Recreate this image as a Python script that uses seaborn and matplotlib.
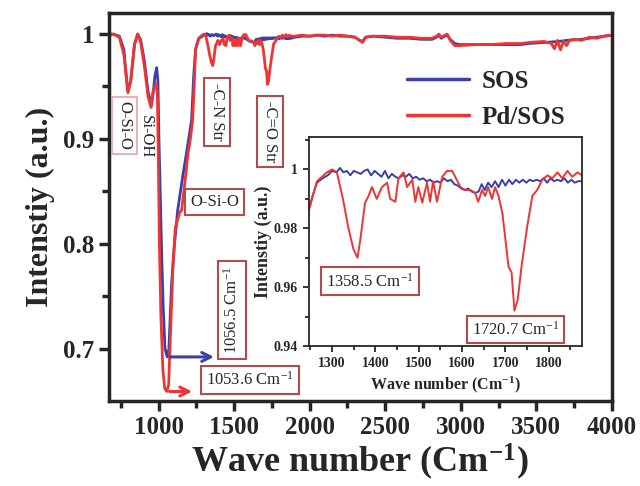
import numpy as np
import pandas as pd
import matplotlib
matplotlib.use("Agg")
import matplotlib.pyplot as plt
import seaborn as sns

# ===============================
# DATA
# ===============================
blue = "#3b3fa8"
red = "#ef3434"

# low range 670-1240 (main plot only)
sos_low_x = [670, 700, 740, 770, 795, 815, 840, 861, 880, 905, 930, 952, 965, 975,
             987, 995, 1002, 1010, 1020, 1030, 1042, 1056.5, 1068, 1085, 1105, 1126,
             1160, 1185, 1218, 1232]
sos_low_y = [1.000, 1.000, 0.998, 0.985, 0.946, 0.955, 0.990, 1.000, 0.995, 0.975,
             0.945, 0.932, 0.945, 0.960, 0.968, 0.955, 0.900, 0.850, 0.790, 0.740,
             0.700, 0.692, 0.700, 0.760, 0.800, 0.832, 0.865, 0.887, 0.918, 0.960]

pd_low_x = [670, 700, 740, 770, 797, 815, 840, 861, 880, 905, 930, 950, 962, 975,
            985, 992, 998, 1005, 1015, 1028, 1040, 1053.6, 1066, 1080, 1095, 1110,
            1140, 1152, 1175, 1192, 1210, 1225, 1235]
pd_low_y = [0.998, 1.000, 0.997, 0.980, 0.944, 0.955, 0.990, 1.000, 0.993, 0.970,
            0.940, 0.930, 0.945, 0.950, 0.953, 0.940, 0.880, 0.800, 0.730, 0.680,
            0.662, 0.659, 0.665, 0.720, 0.780, 0.815, 0.830, 0.832, 0.860, 0.883,
            0.900, 0.918, 0.950]

# inset range 1244-1877
sos_ins_x = [1244, 1255, 1265, 1278, 1290, 1300, 1310, 1318, 1326, 1334, 1342, 1350,
             1358, 1366, 1374, 1382, 1390, 1398, 1406, 1414, 1422, 1430, 1438, 1446,
             1454, 1462, 1470, 1478, 1486, 1494, 1502, 1510, 1518, 1526, 1534, 1542,
             1550, 1558, 1566, 1574, 1582, 1590, 1598, 1606, 1614, 1622, 1630, 1638,
             1645, 1652, 1660, 1668, 1676, 1684, 1692, 1700, 1708, 1716, 1724, 1732,
             1740, 1748, 1756, 1764, 1772, 1780, 1788, 1796, 1804, 1812, 1820, 1828,
             1836, 1844, 1852, 1860, 1868, 1877]
sos_ins_y = [0.985, 0.991, 0.9955, 0.997, 0.998, 0.9995, 0.999, 1.0005, 0.999, 0.9995,
             0.998, 0.9995, 0.999, 0.9985, 0.9995, 1.000, 0.998, 0.9995, 0.9985, 0.9975,
             0.9995, 0.997, 0.9985, 0.9975, 0.997, 0.998, 0.9975, 0.9985, 0.997, 0.9975,
             0.9965, 0.997, 0.996, 0.9965, 0.9955, 0.996, 0.9955, 0.997, 0.996, 0.9965,
             0.995, 0.9945, 0.9935, 0.993, 0.9935, 0.9925, 0.992, 0.9925, 0.995, 0.993,
             0.9955, 0.994, 0.996, 0.994, 0.9965, 0.9945, 0.9965, 0.995, 0.9965, 0.9955,
             0.9965, 0.9955, 0.9965, 0.996, 0.9965, 0.996, 0.997, 0.9955, 0.997, 0.996,
             0.9965, 0.996, 0.997, 0.9955, 0.9965, 0.9955, 0.996, 0.996]

pd_ins_x = [1244, 1265, 1288, 1300, 1311, 1325, 1337, 1349, 1358.5, 1365, 1376, 1384,
            1392, 1403, 1415, 1427, 1434, 1446, 1453, 1465, 1473, 1485, 1492, 1499,
            1508, 1519, 1526, 1533, 1542, 1554, 1565, 1577, 1584, 1596, 1607, 1619,
            1630, 1637, 1646, 1653, 1660, 1669, 1676, 1684, 1693, 1700, 1707, 1714,
            1720.7, 1728, 1737, 1750, 1762, 1773, 1785, 1797, 1808, 1820, 1831, 1843,
            1854, 1866, 1877]
pd_ins_y = [0.985, 0.996, 0.999, 1.000, 0.999, 0.990, 0.9805, 0.973, 0.970, 0.976,
            0.9887, 0.991, 0.994, 0.990, 0.994, 0.9955, 0.990, 0.989, 0.997, 0.999,
            0.994, 0.9965, 0.989, 0.994, 0.9887, 0.9955, 0.989, 0.996, 0.989, 0.9975,
            0.9995, 0.9995, 0.9975, 0.994, 0.993, 0.993, 0.992, 0.989, 0.993, 0.991,
            0.994, 0.990, 0.994, 0.991, 0.985, 0.976, 0.967, 0.965, 0.952, 0.9555,
            0.967, 0.9805, 0.991, 0.993, 0.9965, 0.998, 0.997, 0.999, 0.997, 0.9995,
            0.9975, 0.999, 0.998]

# high range 1900-4000 (main plot only)
sos_high_x = [1900, 1950, 2000, 2050, 2100, 2150, 2200, 2250, 2300, 2330, 2350, 2370,
              2420, 2500, 2580, 2660, 2740, 2810, 2840, 2855, 2870, 2895, 2910, 2930,
              2960, 2993, 3100, 3200, 3300, 3400, 3450, 3550, 3650, 3700, 3800, 3850,
              3900, 4000]
sos_high_y = [0.997, 0.998, 0.998, 0.999, 0.998, 0.999, 0.998, 0.998, 0.997, 0.994,
              0.993, 0.997, 0.998, 0.997, 0.996, 0.996, 0.995, 0.995, 0.997, 0.999,
              0.996, 0.998, 0.999, 0.995, 0.991, 0.990, 0.990, 0.990, 0.990, 0.990,
              0.991, 0.992, 0.993, 0.994, 0.995, 0.996, 0.997, 0.999]

pd_high_x = [1900, 1950, 2000, 2050, 2100, 2150, 2200, 2250, 2300, 2330, 2350, 2370,
             2420, 2500, 2580, 2660, 2740, 2810, 2840, 2855, 2870, 2895, 2910, 2930,
             2960, 2993, 3100, 3200, 3300, 3400, 3450, 3550, 3600, 3620, 3640, 3660,
             3680, 3700, 3720, 3750, 3800, 3850, 3900, 3950, 4000]
pd_high_y = [0.998, 0.999, 0.998, 0.999, 0.999, 0.998, 0.999, 0.998, 0.997, 0.994,
             0.992, 0.997, 0.998, 0.998, 0.997, 0.997, 0.996, 0.996, 0.998, 1.000,
             0.997, 0.999, 1.000, 0.994, 0.989, 0.989, 0.990, 0.990, 0.991, 0.991,
             0.992, 0.993, 0.991, 0.986, 0.994, 0.985, 0.993, 0.989, 0.994, 0.995,
             0.994, 0.997, 0.996, 0.998, 0.999]

main_df = pd.concat([
    pd.DataFrame({"wn": sos_low_x + sos_ins_x + sos_high_x,
                  "I": sos_low_y + sos_ins_y + sos_high_y, "s": "SOS"}),
    pd.DataFrame({"wn": pd_low_x + pd_ins_x + pd_high_x,
                  "I": pd_low_y + pd_ins_y + pd_high_y, "s": "Pd/SOS"}),
])
ins_df = pd.concat([
    pd.DataFrame({"wn": sos_ins_x, "I": sos_ins_y, "s": "SOS"}),
    pd.DataFrame({"wn": pd_ins_x, "I": pd_ins_y, "s": "Pd/SOS"}),
])

# ===============================
# STYLE
# ===============================
sns.set_style("ticks")
plt.rcParams["font.family"] = ["Liberation Serif", "DejaVu Serif"]
plt.rcParams["mathtext.fontset"] = "custom"
plt.rcParams["mathtext.rm"] = "Liberation Serif"
plt.rcParams["mathtext.bf"] = "Liberation Serif:bold"
plt.rcParams["mathtext.it"] = "Liberation Serif:italic"

pal = {"SOS": blue, "Pd/SOS": red}

fig = plt.figure(figsize=(6.4, 4.86), dpi=100)
ax = fig.add_axes([0.170, 0.175, 0.786, 0.798])

sns.lineplot(data=main_df, x="wn", y="I", hue="s", palette=pal, lw=2.0,
             estimator=None, sort=False, ax=ax)

ax.set_xlim(670, 4000)
ax.set_ylim(0.650, 1.020)
ax.set_xticks([1000, 1500, 2000, 2500, 3000, 3500, 4000])
ax.set_xticks(np.arange(750, 4000, 500), minor=True)
ax.set_yticks([0.7, 0.8, 0.9, 1.0])
ax.set_yticklabels(["0.7", "0.8", "0.9", "1"])
ax.set_yticks([0.75, 0.85, 0.95], minor=True)
ax.tick_params(which="major", length=7, width=2.5, labelsize=18)
ax.tick_params(which="minor", length=5, width=2.5)
for lab in ax.get_xticklabels() + ax.get_yticklabels():
    lab.set_fontweight("bold")
for sp in ax.spines.values():
    sp.set_linewidth(2.5)
ax.set_xlabel("Wave number (Cm$^{\\mathbf{-1}}$)", fontsize=26, fontweight="bold", labelpad=2)
ax.set_ylabel("Intenstiy (a.u.)", fontsize=23, fontweight="bold", labelpad=6)

leg = ax.legend(loc="upper left", bbox_to_anchor=(0.567, 0.885), frameon=False,
                borderpad=0, handlelength=2.5, labelspacing=0.5, handletextpad=0.5,
                prop={"weight": "bold", "size": 18})
for h in leg.get_lines():
    h.set_linewidth(2.5)

# annotations
dark = "#b34b4b"
ax.text(775, 0.913, "O-Si-O", rotation=-90, ha="center", va="center", fontsize=12,
        bbox=dict(boxstyle="square,pad=0.25", fc="white", ec="#e6a3a3", lw=1.2))
ax.text(915, 0.902, "Si-OH", rotation=-90, ha="center", va="center", fontsize=12)
ax.text(1384, 0.926, "-C-N Str", rotation=-90, ha="center", va="center", fontsize=12,
        bbox=dict(boxstyle="square,pad=0.3", fc="white", ec=dark, lw=1.5))
ax.text(1735, 0.907, "-C=O Str", rotation=-90, ha="center", va="center", fontsize=12,
        bbox=dict(boxstyle="square,pad=0.3", fc="white", ec=dark, lw=1.5))
ax.text(1371, 0.840, "O-Si-O", ha="center", va="center", fontsize=12,
        bbox=dict(boxstyle="square,pad=0.3", fc="white", ec=dark, lw=1.5))
ax.text(1483, 0.737, "1056.5 Cm$^{-1}$", rotation=90, ha="center", va="center", fontsize=12,
        bbox=dict(boxstyle="square,pad=0.3", fc="white", ec=dark, lw=1.5))
ax.text(1603, 0.670, "1053.6 Cm$^{-1}$", ha="center", va="center", fontsize=12,
        bbox=dict(boxstyle="square,pad=0.3", fc="white", ec=dark, lw=1.5))
ax.annotate("", xy=(1385, 0.692), xytext=(1056.5, 0.692),
            arrowprops=dict(arrowstyle="->", color=blue, lw=2.2, mutation_scale=16))
ax.annotate("", xy=(1240, 0.659), xytext=(1053.6, 0.659),
            arrowprops=dict(arrowstyle="->", color=red, lw=2.2, mutation_scale=16))

# ===============================
# INSET
# ===============================
ax2 = fig.add_axes([0.483, 0.288, 0.426, 0.430])
sns.lineplot(data=ins_df, x="wn", y="I", hue="s", palette=pal, lw=1.4,
             estimator=None, sort=False, legend=False, ax=ax2)
ax2.set_xlim(1247, 1876)
ax2.set_ylim(0.940, 1.011)
ax2.set_xticks([1300, 1400, 1500, 1600, 1700, 1800])
ax2.set_xticks(np.arange(1250, 1900, 100), minor=True)
ax2.set_yticks([0.94, 0.96, 0.98, 1.0])
ax2.set_yticklabels(["0.94", "0.96", "0.98", "1"])
ax2.set_yticks([0.95, 0.97, 0.99, 1.01], minor=True)
ax2.tick_params(which="major", length=4, width=1.3, labelsize=10, pad=4)
ax2.tick_params(which="minor", length=3, width=1.3)
for lab in ax2.get_xticklabels() + ax2.get_yticklabels():
    lab.set_fontweight("bold")
for sp in ax2.spines.values():
    sp.set_linewidth(1.3)
ax2.set_xlabel("Wave number (Cm$^{\\mathbf{-1}}$)", fontsize=11.5, fontweight="bold", labelpad=3)
ax2.set_ylabel("Intenstiy (a.u.)", fontsize=13, fontweight="bold", labelpad=1)
ax2.text(1388, 0.962, "1358.5 Cm$^{-1}$", ha="center", va="center", fontsize=12,
         bbox=dict(boxstyle="square,pad=0.3", fc="white", ec=dark, lw=1.5))
ax2.text(1723, 0.9456, "1720.7 Cm$^{-1}$", ha="center", va="center", fontsize=12,
         bbox=dict(boxstyle="square,pad=0.3", fc="white", ec=dark, lw=1.5))

fig.savefig("out.png", dpi=100)
